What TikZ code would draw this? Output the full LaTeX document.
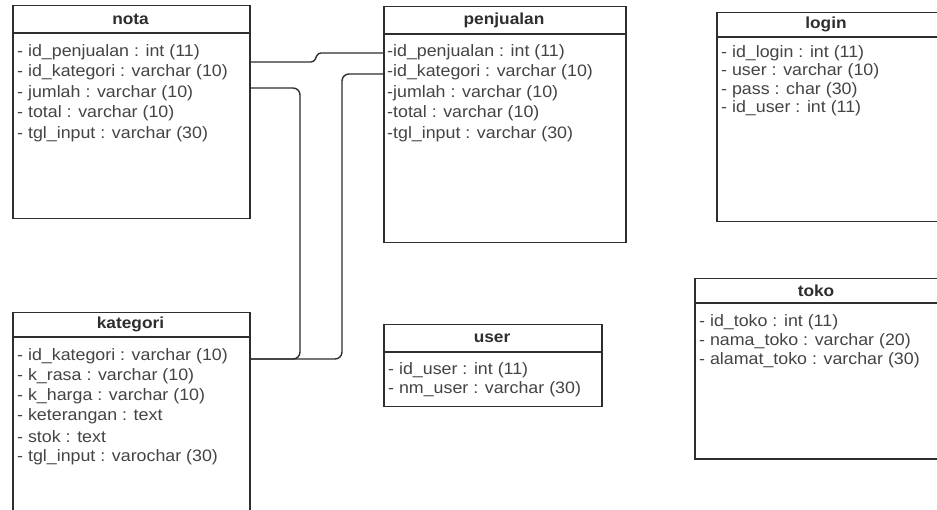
\documentclass[tikz,border=0pt]{standalone}
\usepackage{fontspec}
\setmainfont{Liberation Sans}[FakeStretch=1.08]
\definecolor{edge}{HTML}{2E2E2E}
\definecolor{ink}{HTML}{444444}
\begin{document}
\begin{tikzpicture}[x=1pt,y=-1pt,
  tablebox/.style={draw=edge,line width=1.5pt,anchor=north west,inner sep=0pt},
  headrule/.style={draw=edge,line width=1.6pt},
  title/.style={font=\fontsize{16}{16}\selectfont\bfseries,text=edge,inner sep=0pt},
  field/.style={font=\fontsize{16.5}{16.5}\selectfont,text=ink,anchor=west,inner sep=0pt},
  link/.style={draw=edge,line width=1.4pt,rounded corners=7pt}]
\useasboundingbox (0,0) rectangle (937,510);
\fill[white] (0,0) rectangle (937,510);

% ---- nota ----
\node[tablebox,minimum width=237pt,minimum height=213pt] (nota) at (12,5) {};
\draw[headrule] (12,33) -- (249,33);
\node[title] (nota-t) at (130.5,19) {nota};
\node[field] (nota-1) at (17,52) {- id\_penjualan : int (11)};
\node[field] (nota-2) at (17,72.5) {- id\_kategori : varchar (10)};
\node[field] (nota-3) at (17,93) {- jumlah : varchar (10)};
\node[field] (nota-4) at (17,113.5) {- total : varchar (10)};
\node[field] (nota-5) at (17,134) {- tgl\_input : varchar (30)};

% ---- penjualan ----
\node[tablebox,minimum width=242pt,minimum height=236pt] (penj) at (383,6) {};
\draw[headrule] (383,34) -- (625,34);
\node[title] (penj-t) at (504,20) {penjualan};
\node[field] (penj-1) at (387,52) {-id\_penjualan : int (11)};
\node[field] (penj-2) at (387,72.5) {-id\_kategori : varchar (10)};
\node[field] (penj-3) at (387,93) {-jumlah : varchar (10)};
\node[field] (penj-4) at (387,113.5) {-total : varchar (10)};
\node[field] (penj-5) at (387,134) {-tgl\_input : varchar (30)};

% ---- login ----
\node[tablebox,minimum width=224pt,minimum height=209pt] (login) at (716,12) {};
\draw[headrule] (716,37) -- (940,37);
\node[title] (login-t) at (826,24.5) {login};
\node[field] (login-1) at (721,53) {- id\_login : int (11)};
\node[field] (login-2) at (721,71.5) {- user : varchar (10)};
\node[field] (login-3) at (721,90) {- pass : char (30)};
\node[field] (login-4) at (721,108.5) {- id\_user : int (11)};

% ---- kategori ----
\node[tablebox,minimum width=237pt,minimum height=210pt] (kat) at (12,312) {};
\draw[headrule] (12,337) -- (249,337);
\node[title] (kat-t) at (130.5,324.5) {kategori};
\node[field] (kat-1) at (17,356) {- id\_kategori : varchar (10)};
\node[field] (kat-2) at (17,376.2) {- k\_rasa : varchar (10)};
\node[field] (kat-3) at (17,396.4) {- k\_harga : varchar (10)};
\node[field] (kat-4) at (17,416.6) {- keterangan : text};
\node[field] (kat-5) at (17,436.8) {- stok : text};
\node[field] (kat-6) at (17,457) {- tgl\_input : varochar (30)};

% ---- user ----
\node[tablebox,minimum width=218pt,minimum height=82pt] (user) at (383,324) {};
\draw[headrule] (383,352) -- (601,352);
\node[title] (user-t) at (492,338) {user};
\node[field] (user-1) at (388,370) {- id\_user : int (11)};
\node[field] (user-2) at (388,389) {- nm\_user : varchar (30)};

% ---- toko ----
\node[tablebox,minimum width=246pt,minimum height=180pt] (toko) at (694,278) {};
\draw[headrule] (694,303) -- (940,303);
\node[title] (toko-t) at (816,290.5) {toko};
\node[field] (toko-1) at (699,322) {- id\_toko : int (11)};
\node[field] (toko-2) at (699,341) {- nama\_toko : varchar (20)};
\node[field] (toko-3) at (699,360) {- alamat\_toko : varchar (30)};

% ---- connector end points on the table edges ----
\coordinate (nota-pj) at (nota.east |- 0,62);
\coordinate (nota-kt) at (nota.east |- 0,88);
\coordinate (penj-pj) at (penj.west |- 0,53);
\coordinate (penj-kt) at (penj.west |- 0,74);
\coordinate (kat-kt) at (kat.east |- 0,359);

% ---- relations ----
\draw[link,rounded corners=3pt] (nota-pj) -- (314,62) -- (318,53) -- (penj-pj);
\draw[link] (nota-kt) -- (300,88) -- (300,359) -- (kat-kt);
\draw[link] (penj-kt) -- (342,74) -- (342,359) -- (kat-kt);
\end{tikzpicture}
\end{document}
